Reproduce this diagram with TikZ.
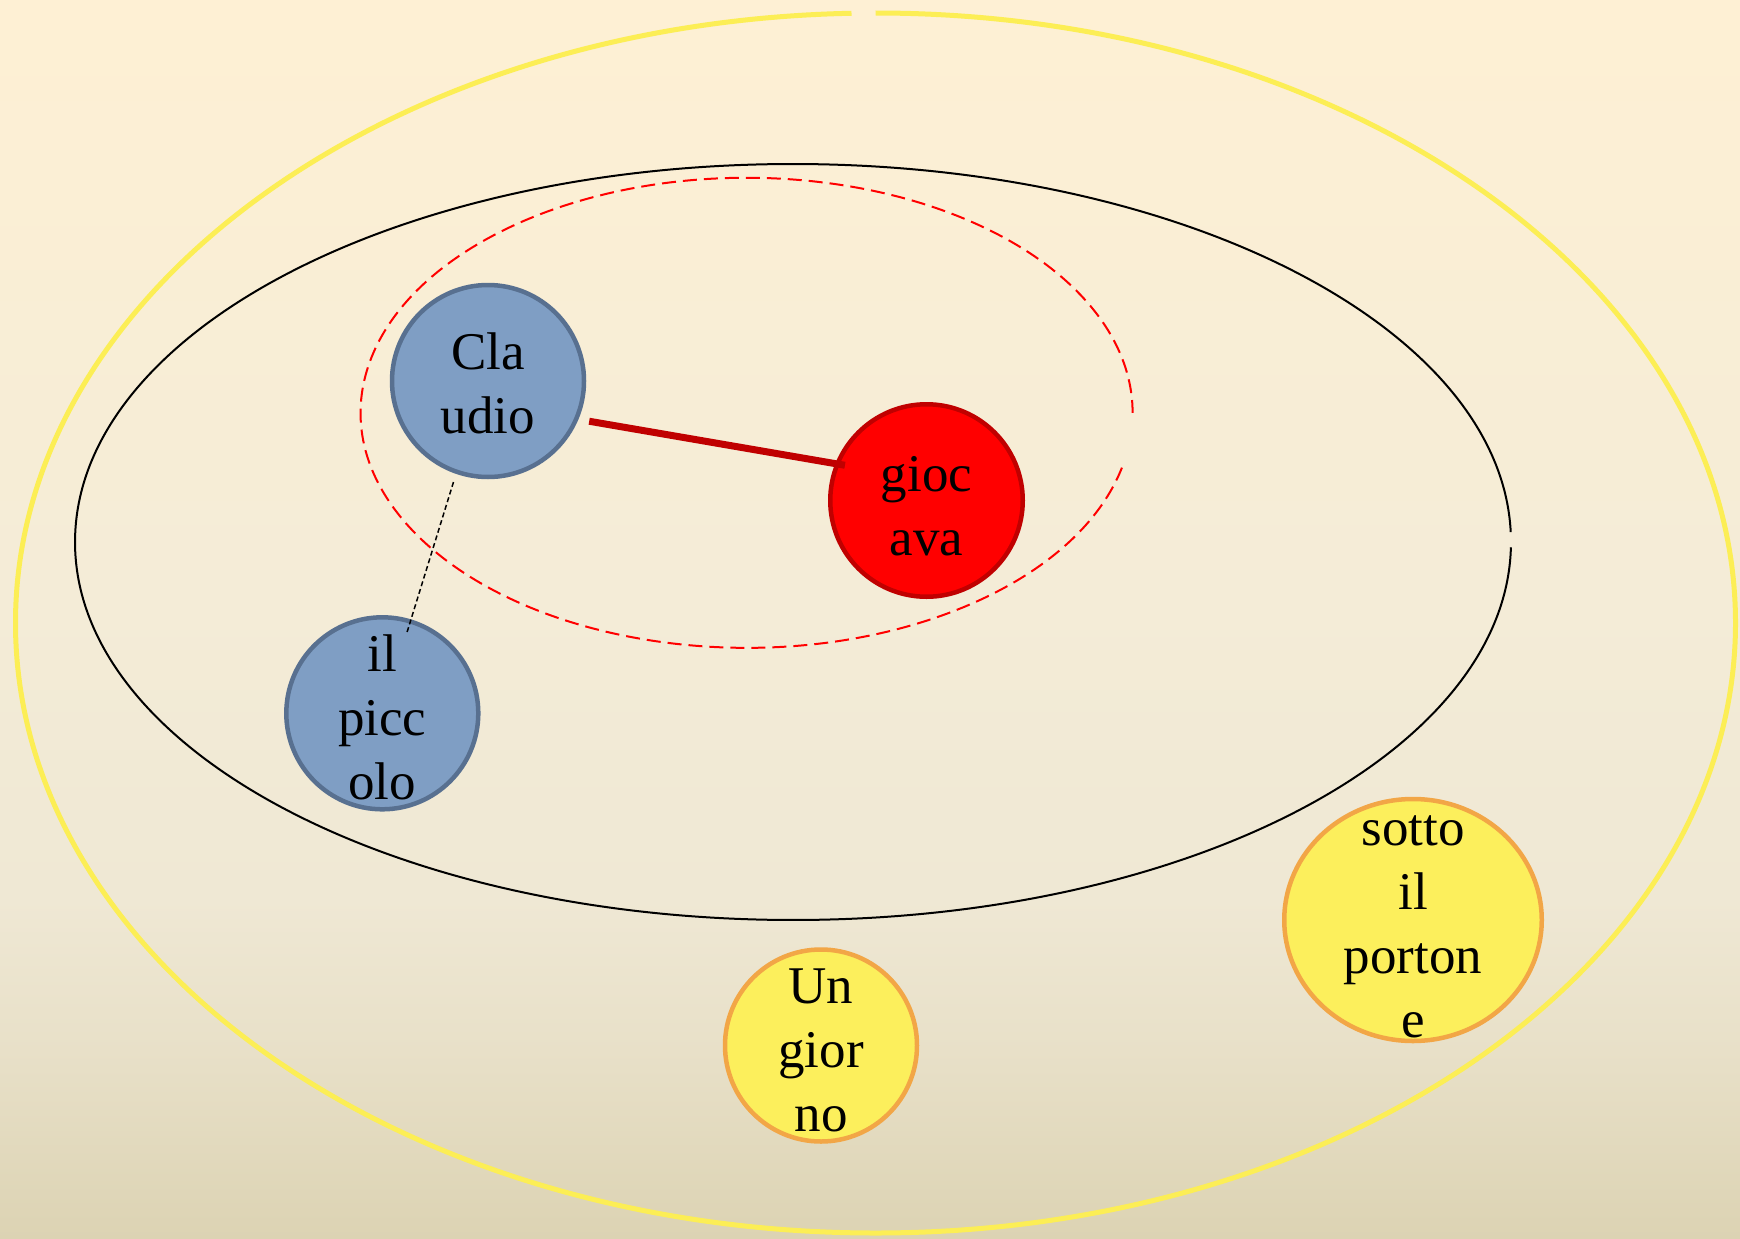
\documentclass[tikz,border=0pt]{standalone}
\usepackage{fontspec}
\setmainfont{Liberation Serif}
\usetikzlibrary{shapes.geometric,calc}

\definecolor{bgtop}{RGB}{254,240,212}
\definecolor{bgmid}{RGB}{244,236,215}
\definecolor{bglow}{RGB}{239,232,212}
\definecolor{bgdeep}{RGB}{232,224,200}
\definecolor{bgbot}{RGB}{220,211,179}
\definecolor{ringyellow}{RGB}{252,238,85}
\definecolor{bluefill}{RGB}{127,158,196}
\definecolor{blueedge}{RGB}{88,112,144}
\definecolor{rededge}{RGB}{192,0,0}
\definecolor{sunfill}{RGB}{252,239,92}
\definecolor{sunedge}{RGB}{242,166,70}
\definecolor{tiered}{RGB}{192,0,0}

% vertical paper tone, darkening towards the bottom
\pgfdeclareverticalshading{paper}{100bp}{%
  color(0bp)=(bgbot); color(25bp)=(bgbot); color(32.6bp)=(bgdeep);
  color(38.7bp)=(bglow); color(50.8bp)=(bgmid); color(75bp)=(bgtop);
  color(100bp)=(bgtop)}

\begin{document}
\begin{tikzpicture}[x=1pt,y=-1pt,
  lbl/.style={font=\fontsize{53}{64}\selectfont, align=center, inner sep=0pt},
  bluedot/.style={circle, draw=blueedge, fill=bluefill, line width=4.5pt,
                  minimum size=192pt, inner sep=0pt},
  reddot/.style={circle, draw=rededge, fill=red, line width=4.5pt,
                 minimum size=192.5pt, inner sep=0pt},
  sundot/.style={draw=sunedge, fill=sunfill, line width=4.5pt, inner sep=0pt},
  tie/.style={line width=7pt, draw=tiered},
  dotlink/.style={line width=1.5pt, dash pattern=on 5pt off 3pt},
  ring/.style={line width=5pt, draw=ringyellow},
  frame/.style={line width=2pt, draw=black},
  focus/.style={line width=2pt, draw=red, dash pattern=on 14pt off 7pt},
]
\shade[shading=paper] (0,0) rectangle (1740,1239);
\useasboundingbox (0,0) rectangle (1740,1239);

% nested regions
\coordinate (outerC) at (875.5,623);
\coordinate (frameC) at (793,542);
\coordinate (focusC) at (746.6,412.8);
\draw[ring] ($(outerC)+(270:860 and 610)$)
  arc[start angle=270, end angle=628.4, x radius=860, y radius=610];
\draw[frame] ($(frameC)+(0.8:718 and 378)$)
  arc[start angle=0.8, end angle=358.5, x radius=718, y radius=378];
\draw[focus] ($(focusC)+(13.5:386 and 235)$)
  arc[start angle=13.5, end angle=360, x radius=386, y radius=235];

% word nodes
\node[bluedot] (clau) at (488,381) {};
\node[lbl, yshift=-2.5pt] (clautxt) at (clau) {Cla\\udio};
\node[reddot] (gioc) at (926.5,500.5) {};
\node[lbl, yshift=-5.5pt] (gioctxt) at (gioc) {gioc\\ava};
\node[bluedot] (picc) at (382.3,713.3) {};
\node[lbl, yshift=-4.5pt] (picctxt) at (picc) {il\\picc\\olo};
\node[sundot, circle, minimum size=192pt] (giorno) at (821,1045.5) {};
\node[lbl, yshift=-4.5pt] (giornotxt) at (giorno) {Un\\gior\\no};
\node[sundot, ellipse, minimum width=257.5pt, minimum height=242pt] (porta) at (1413,920) {};
\node[lbl, yshift=-6.5pt] (portatxt) at (porta) {sotto\\il\\porton\\e};

% links
\draw[tie, shorten <=10.9pt, shorten >=-9.9pt] (clau.-23.3) -- (gioc.158.2);
\draw[dotlink, shorten <=8.5pt, shorten >=-13.5pt] (clau.-109) -- (picc.73);
\end{tikzpicture}
\end{document}
